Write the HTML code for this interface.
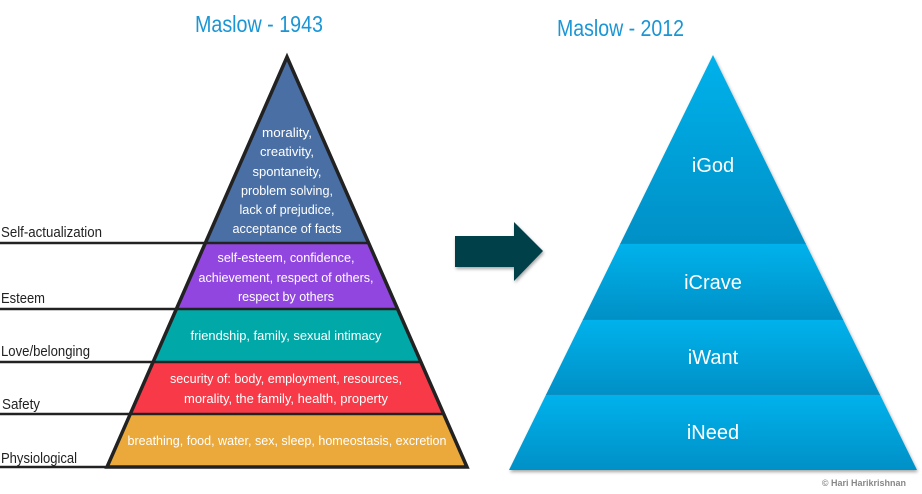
<!DOCTYPE html>
<html><head><meta charset="utf-8"><style>
html,body{margin:0;padding:0;background:#fff;width:922px;height:494px;overflow:hidden}
svg{display:block}
.w{font-family:"Liberation Sans Narrow","Liberation Sans",sans-serif;font-size:13px;fill:#fff;text-anchor:middle}
.l{font-family:"Liberation Sans Narrow","Liberation Sans",sans-serif;font-size:15px;fill:#222}
.t{font-family:"Liberation Sans",sans-serif;font-size:23px;fill:#1a95d5}
.r{font-family:"Liberation Sans",sans-serif;font-size:20px;fill:#fff;text-anchor:middle}
</style></head><body>
<svg width="922" height="494" viewBox="0 0 922 494">
<defs>
<linearGradient id="g" x1="0" y1="0" x2="0" y2="1"><stop offset="0" stop-color="#00b2ec"/><stop offset="1" stop-color="#0090c6"/></linearGradient>
<clipPath id="cl"><polygon points="287,57 107,467 467,467"/></clipPath>
<clipPath id="cr"><polygon points="713,55 509,470 917,470"/></clipPath>
<filter id="sh" x="-20%" y="-20%" width="150%" height="150%"><feDropShadow dx="1" dy="2" stdDeviation="1.5" flood-opacity="0.35"/></filter>
</defs>
<text class="t" x="195" y="32" textLength="128" lengthAdjust="spacingAndGlyphs">Maslow - 1943</text>
<text class="t" x="557" y="36" textLength="127" lengthAdjust="spacingAndGlyphs">Maslow - 2012</text>
<!-- left pyramid -->
<g clip-path="url(#cl)">
<rect x="100" y="50" width="380" height="193" fill="#4a6fa5"/>
<rect x="100" y="243" width="380" height="66" fill="#9146e0"/>
<rect x="100" y="309" width="380" height="53" fill="#00a8a8"/>
<rect x="100" y="362" width="380" height="52" fill="#f83a48"/>
<rect x="100" y="414" width="380" height="60" fill="#eaa93a"/>
<g stroke="#222" stroke-width="2.5">
<line x1="100" y1="243" x2="480" y2="243"/>
<line x1="100" y1="309" x2="480" y2="309"/>
<line x1="100" y1="362" x2="480" y2="362"/>
<line x1="100" y1="414" x2="480" y2="414"/>
</g>
</g>
<g stroke="#222" stroke-width="2.5">
<line x1="0" y1="243" x2="206" y2="243"/>
<line x1="0" y1="309" x2="177" y2="309"/>
<line x1="0" y1="362" x2="154" y2="362"/>
<line x1="0" y1="414" x2="131" y2="414"/>
<line x1="0" y1="467" x2="108" y2="467"/>
</g>
<polygon points="287,57 107,467 467,467" fill="none" stroke="#222" stroke-width="3.5" stroke-linejoin="miter"/>
<text class="l" x="1" y="237" textLength="101" lengthAdjust="spacingAndGlyphs">Self-actualization</text>
<text class="l" x="1" y="303" textLength="44" lengthAdjust="spacingAndGlyphs">Esteem</text>
<text class="l" x="1" y="356" textLength="89" lengthAdjust="spacingAndGlyphs">Love/belonging</text>
<text class="l" x="2" y="409" textLength="38" lengthAdjust="spacingAndGlyphs">Safety</text>
<text class="l" x="1" y="463" textLength="76" lengthAdjust="spacingAndGlyphs">Physiological</text>
<text class="w" x="287" y="137" textLength="50" lengthAdjust="spacingAndGlyphs">morality,</text>
<text class="w" x="287" y="156" textLength="54" lengthAdjust="spacingAndGlyphs">creativity,</text>
<text class="w" x="287" y="176" textLength="69" lengthAdjust="spacingAndGlyphs">spontaneity,</text>
<text class="w" x="287" y="195" textLength="92" lengthAdjust="spacingAndGlyphs">problem solving,</text>
<text class="w" x="287" y="214" textLength="95" lengthAdjust="spacingAndGlyphs">lack of prejudice,</text>
<text class="w" x="287" y="233" textLength="109" lengthAdjust="spacingAndGlyphs">acceptance of facts</text>
<text class="w" x="286" y="262" textLength="137" lengthAdjust="spacingAndGlyphs">self-esteem, confidence,</text>
<text class="w" x="286" y="282" textLength="175" lengthAdjust="spacingAndGlyphs">achievement, respect of others,</text>
<text class="w" x="286" y="301" textLength="96" lengthAdjust="spacingAndGlyphs">respect by others</text>
<text class="w" x="286" y="340" textLength="191" lengthAdjust="spacingAndGlyphs">friendship, family, sexual intimacy</text>
<text class="w" x="286" y="383" textLength="232" lengthAdjust="spacingAndGlyphs">security of: body, employment, resources,</text>
<text class="w" x="286" y="403" textLength="204" lengthAdjust="spacingAndGlyphs">morality, the family, health, property</text>
<text class="w" x="287" y="445" textLength="319" lengthAdjust="spacingAndGlyphs">breathing, food, water, sex, sleep, homeostasis, excretion</text>
<!-- arrow -->
<polygon points="455,236 514,236 514,222 543,251 514,281 514,267 455,267" fill="#053f4a" filter="url(#sh)"/>
<!-- right pyramid -->
<g filter="url(#sh)">
<g clip-path="url(#cr)">
<rect x="500" y="50" width="420" height="193" fill="url(#g)"/>
<rect x="500" y="243" width="420" height="76" fill="url(#g)"/>
<rect x="500" y="319" width="420" height="75" fill="url(#g)"/>
<rect x="500" y="394" width="420" height="76" fill="url(#g)"/>
<g stroke="#0a8fc4" stroke-width="1">
<line x1="500" y1="243.5" x2="920" y2="243.5"/>
<line x1="500" y1="319.5" x2="920" y2="319.5"/>
<line x1="500" y1="394.5" x2="920" y2="394.5"/>
</g>
</g>
</g>
<text class="r" x="713" y="172">iGod</text>
<text class="r" x="713" y="289">iCrave</text>
<text class="r" x="713" y="364">iWant</text>
<text class="r" x="713" y="439">iNeed</text>
<text x="906" y="486" text-anchor="end" font-family="Liberation Sans,sans-serif" font-size="9" font-weight="bold" fill="#888">© Hari Harikrishnan</text>
</svg>
</body></html>
